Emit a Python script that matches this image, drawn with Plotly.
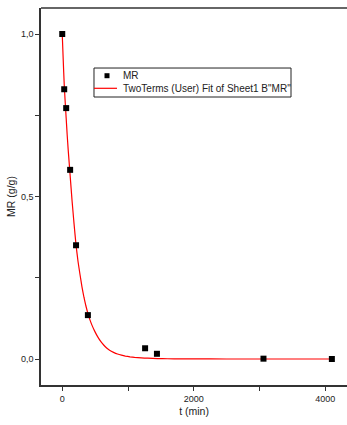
import plotly.graph_objects as go

# Measured data (MR vs time)
t_data = [0, 30, 60, 120, 210, 390, 1260, 1440, 3060, 4100]
mr_data = [1.0, 0.83, 0.772, 0.582, 0.35, 0.135, 0.033, 0.016, 0.001, 0.0]

# Fit curve
t_fit = [0, 15, 30, 45, 60, 75, 90, 105, 120, 135, 150, 165, 180, 195, 210, 240, 270, 300, 330, 360, 390,
         420, 450, 495, 540, 585, 630, 675, 720, 780, 840, 900, 960, 1030, 1100, 1200, 1300, 1450, 1600, 1800,
         2000, 2500, 3000, 4100]
mr_fit = [1.0, 0.92, 0.845, 0.79, 0.74, 0.69, 0.645, 0.605, 0.565, 0.525, 0.485, 0.45, 0.415, 0.382, 0.35,
          0.30, 0.26, 0.222, 0.19, 0.163, 0.14, 0.121, 0.105, 0.085, 0.068, 0.054, 0.043, 0.034, 0.027,
          0.0205, 0.0155, 0.0118, 0.009, 0.0068, 0.0051, 0.0035, 0.0024, 0.0014, 0.0008, 0.0004,
          0.0002, 0.0, 0.0, 0.0]

x_tickvals = [0, 1000, 2000, 3000, 4000]
x_ticktext = ["0", "", "2000", "", "4000"]
y_tickvals = [0, 0.25, 0.5, 0.75, 1.0]
y_ticktext = ["0,0", "", "0,5", "", "1,0"]

name_data = "MR"
name_fit = 'TwoTerms (User) Fit of Sheet1 B"MR"'

fig = go.Figure()
fig.add_trace(go.Scatter(
    x=t_fit, y=mr_fit, mode="lines", name=name_fit,
    line=dict(color="red", width=1.2, shape="spline", smoothing=0.3),
))
fig.add_trace(go.Scatter(
    x=t_data, y=mr_data, mode="markers", name=name_data,
    marker=dict(symbol="square", size=6, color="black"),
))

font = "Liberation Sans, Arial, sans-serif"

# Hand-drawn legend box and top frame line (paper coordinates)
shapes = [
    dict(type="line", xref="paper", yref="paper", x0=0, x1=1, y0=1, y1=1,
         line=dict(color="#333", width=1.5), layer="above"),
    dict(type="rect", xref="paper", yref="paper", x0=0.1732, x1=0.817, y0=0.7639, y1=0.8408,
         line=dict(color="#222", width=1), fillcolor="white", layer="above"),
    dict(type="rect", xref="paper", yref="paper", xsizemode="pixel", ysizemode="pixel",
         xanchor=0.2157, yanchor=0.8204, x0=-2.5, x1=2.5, y0=-2.5, y1=2.5,
         line=dict(width=0), fillcolor="black", layer="above"),
    dict(type="line", xref="paper", yref="paper", x0=0.1732, x1=0.2484, y0=0.787, y1=0.787,
         line=dict(color="red", width=1.2), layer="above"),
]
annotations = [
    dict(text=name_data, xref="paper", yref="paper", x=0.2614, y=0.8204, xanchor="left", yanchor="middle",
         showarrow=False, font=dict(size=10, color="#222", family=font)),
    dict(text=name_fit, xref="paper", yref="paper", x=0.2614, y=0.787, xanchor="left", yanchor="middle",
         showarrow=False, font=dict(size=10, color="#222", family=font)),
]

fig.update_layout(
    width=347, height=425,
    margin=dict(l=41, r=0, t=8, b=40),
    plot_bgcolor="white", paper_bgcolor="white",
    font=dict(family=font, size=9, color="#222"),
    showlegend=False,
    shapes=shapes,
    annotations=annotations,
    xaxis=dict(
        range=[-323, 4330], tickvals=x_tickvals, ticktext=x_ticktext,
        ticks="outside", ticklen=4, tickwidth=1, tickcolor="#333",
        showline=True, linecolor="#333", linewidth=1.5,
        showgrid=False, zeroline=False,
        title=dict(text="t (min)", font=dict(size=10.5, color="#222"), standoff=5),
    ),
    yaxis=dict(
        range=[-0.08, 1.08], tickvals=y_tickvals, ticktext=y_ticktext,
        ticks="outside", ticklen=4, tickwidth=1, tickcolor="#333",
        showline=True, linecolor="#333", linewidth=1.5,
        showgrid=False, zeroline=False,
        title=dict(text="MR (g/g)", font=dict(size=10.5, color="#222"), standoff=3),
    ),
)

fig.write_html("out.html", config={"displayModeBar": False})

# remove default browser body margin so the figure fills the window
with open("out.html", "r", encoding="utf-8") as f:
    html = f.read()
html = html.replace("<head>", "<head><style>body{margin:0;overflow:hidden}</style>", 1)
with open("out.html", "w", encoding="utf-8") as f:
    f.write(html)
